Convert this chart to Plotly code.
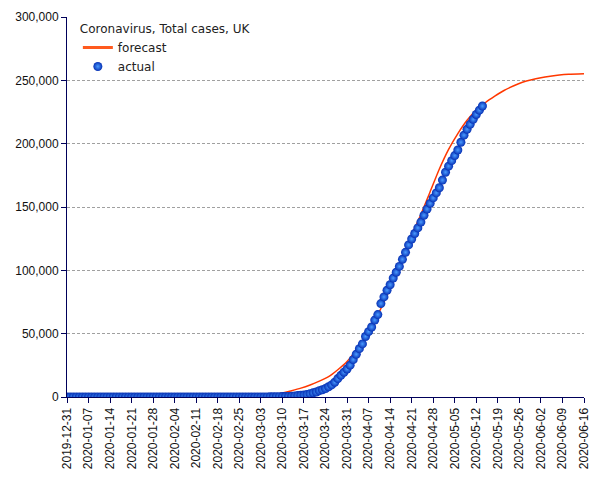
import pandas as pd
import plotly.graph_objects as go

# Actual cumulative cases (daily, starting 2019-12-31)
actual_start = "2019-12-31"
actual_values = (
    [0] * 32 +                                    # 2019-12-31 .. 2020-01-31
    [2, 2, 2, 2, 2, 2, 3, 3, 3, 4, 8, 8,          # Feb 1 .. Feb 12
     9, 9, 9, 9, 9, 9, 9, 9, 9, 9, 9, 9, 9,       # Feb 13 .. Feb 25
     13, 13, 15, 20,                              # Feb 26 .. Feb 29
     23, 36, 40, 51, 85, 115, 163, 206, 273, 321, # Mar 1 .. Mar 10
     373, 456, 590, 798, 1140, 1372, 1543, 1950, 2626, 3269,   # Mar 11 .. Mar 20
     3983, 5018, 5683, 6650, 8077, 9529, 11658, 14543, 17089, 19522,  # Mar 21 .. Mar 30
     22141,                                       # Mar 31
     25150, 29474, 33718, 38168, 41903, 47806, 51608, 55242, 60733, 65077,  # Apr 1 .. Apr 10
     73758, 78991, 84279, 88621, 93873, 98476, 103093, 108692, 114217, 120067,  # Apr 11 .. Apr 20
     124743, 129044, 133495, 138078, 143464, 148377, 152840, 157149, 161145, 165221,  # Apr 21 .. Apr 30
     171253, 177454, 182260, 186599, 190584, 194990, 201101, 206715, 211364, 215260,  # May 1 .. May 10
     219183, 223060, 226463, 229705]              # May 11 .. May 14
)
actual_dates = pd.date_range(actual_start, periods=len(actual_values), freq="D")

# Forecast curve
forecast_dates = ["2020-03-01", "2020-03-05", "2020-03-08", "2020-03-10", "2020-03-13",
                  "2020-03-16", "2020-03-19", "2020-03-22", "2020-03-25", "2020-03-28",
                  "2020-03-31", "2020-04-03", "2020-04-06", "2020-04-09", "2020-04-12",
                  "2020-04-15", "2020-04-18", "2020-04-21", "2020-04-24", "2020-04-27",
                  "2020-04-30", "2020-05-03", "2020-05-06", "2020-05-09", "2020-05-12",
                  "2020-05-15", "2020-05-18", "2020-05-21", "2020-05-24", "2020-05-27",
                  "2020-05-30", "2020-06-02", "2020-06-05", "2020-06-08", "2020-06-11",
                  "2020-06-16"]
forecast_values = [500, 1200, 2200, 3200, 5000,
                   7000, 9500, 12500, 16000, 21500,
                   28000, 37000, 47000, 60000, 75000,
                   92000, 110000, 128000, 144000, 162000,
                   180000, 195500, 208000, 218500, 226500,
                   232500, 237500, 242000, 245500, 248500,
                   250500, 252000, 253200, 254200, 254800,
                   255200]

y_ticks = [0, 50000, 100000, 150000, 200000, 250000, 300000]
x_range = ["2019-12-31", "2020-06-16"]

fig = go.Figure()
fig.add_trace(go.Scatter(
    x=forecast_dates, y=forecast_values, mode="lines", name="forecast",
    line=dict(color="#ff3800", width=1.5, shape="spline", smoothing=0.6),
    showlegend=False,
))
# legend-only entry, drawn with the thicker orange stroke of the reference legend
fig.add_trace(go.Scatter(
    x=[None], y=[None], mode="lines", name="forecast",
    line=dict(color="#ff5a1e", width=3),
))
fig.add_trace(go.Scatter(
    x=actual_dates, y=actual_values, mode="markers", name="actual",
    marker=dict(size=9, color="#0630b4",
                gradient=dict(type="radial", color="#4a9cff"),
                line=dict(width=0)),
))

axis_col = "#00005a"
# the page body adds an 8px offset, so the figure is 8px smaller and margins shifted
fig.update_layout(
    width=597, height=472,
    margin=dict(l=59, r=21, t=9, b=83, autoexpand=False),
    paper_bgcolor="white", plot_bgcolor="white",
    font=dict(family="Liberation Sans, Arial, sans-serif", size=12, color="#111111"),
    showlegend=True,
    legend=dict(
        x=0.021, y=0.999, xanchor="left", yanchor="top",
        bgcolor="rgba(255,255,255,0)",
        font=dict(family="DejaVu Sans, sans-serif", size=12, color="#222222"),
        title=dict(text="Coronavirus, Total cases, UK", side="top",
                   font=dict(family="DejaVu Sans, sans-serif", size=12, color="#222222")),
        tracegroupgap=0, itemwidth=30,
    ),
    xaxis=dict(
        type="date", range=x_range, automargin=False,
        tick0="2019-12-31", dtick=7 * 86400000, tickformat="%Y-%m-%d",
        tickangle=-90, ticks="outside", ticklen=5, tickcolor=axis_col,
        showline=True, linecolor=axis_col, linewidth=1,
        showgrid=False, zeroline=False,
        tickfont=dict(size=12, color="#111111"),
    ),
    yaxis=dict(
        range=[0, 300000], tickvals=y_ticks, tickformat=",d", automargin=False,
        ticks="outside", ticklen=5, tickcolor=axis_col,
        showline=True, linecolor=axis_col, linewidth=1,
        showgrid=True, gridcolor="#a0a0a0", gridwidth=1, griddash="3px,2px",
        zeroline=False,
        tickfont=dict(size=12, color="#111111"),
    ),
)

fig.write_html("out.html")
